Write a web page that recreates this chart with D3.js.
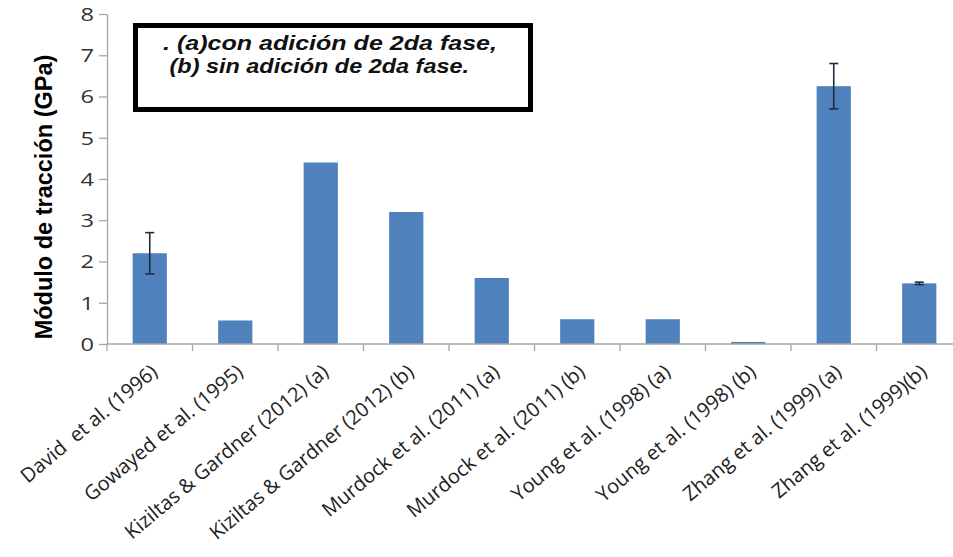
<!DOCTYPE html>
<html>
<head>
<meta charset="utf-8">
<script src="https://cdn.jsdelivr.net/npm/d3@7"></script>
<style>
  html, body { margin: 0; padding: 0; background: #fff; }
  svg { display: block; }
</style>
</head>
<body>
<svg id="chart" width="953" height="557"></svg>
<script>
// Tensile modulus per study (GPa)
const categories = [
  "David  et al. (1996)",
  "Gowayed et al. (1995)",
  "Kiziltas & Gardner (2012) (a)",
  "Kiziltas & Gardner (2012) (b)",
  "Murdock et al. (2011) (a)",
  "Murdock et al. (2011) (b)",
  "Young et al. (1998) (a)",
  "Young et al. (1998) (b)",
  "Zhang et al. (1999) (a)",
  "Zhang et al. (1999)(b)"
];
const values = [2.2, 0.57, 4.4, 3.2, 1.6, 0.6, 0.6, 0.05, 6.25, 1.47];
// error bar half-widths (null = no error bar)
const errors = [0.5, null, null, null, null, null, null, null, 0.55, 0.03];
const yTicks = [0, 1, 2, 3, 4, 5, 6, 7, 8];
const yLabel = "Módulo de tracción (GPa)";
const noteLines = [". (a)con adición de 2da fase,", " (b) sin adición de 2da fase."];

const svg = d3.select("#chart");
const plotLeft = 107, plotRight = 962, plotTop = 14, plotBottom = 344;

const x = d3.scaleBand().domain(categories).range([plotLeft, plotRight]).paddingInner(0.6).paddingOuter(0.3);
const y = d3.scaleLinear().domain([0, 8]).range([plotBottom, plotTop]);

const axisColor = "#a6a6a6";
const tickFont = "'Open Sans', 'DejaVu Sans', sans-serif";

// bars
svg.append("g").selectAll("rect")
  .data(categories)
  .join("rect")
  .attr("x", d => x(d))
  .attr("width", x.bandwidth())
  .attr("y", (d, i) => y(values[i]))
  .attr("height", (d, i) => y(0) - y(values[i]))
  .attr("fill", "#4f81bd");

// error bars
const eb = svg.append("g").attr("stroke", "#1f2d3d").attr("stroke-width", 1.6);
categories.forEach((c, i) => {
  const e = errors[i];
  if (e == null) return;
  const cx = x(c) + x.bandwidth() / 2;
  const y1 = y(values[i] + e), y2 = y(values[i] - e);
  eb.append("line").attr("x1", cx).attr("x2", cx).attr("y1", y1).attr("y2", y2);
  eb.append("line").attr("x1", cx - 4.5).attr("x2", cx + 4.5).attr("y1", y1).attr("y2", y1);
  eb.append("line").attr("x1", cx - 4.5).attr("x2", cx + 4.5).attr("y1", y2).attr("y2", y2);
});

// y axis
const yAxis = svg.append("g")
  .attr("transform", `translate(${plotLeft},0)`)
  .call(d3.axisLeft(y).tickValues(yTicks).tickSize(8).tickSizeOuter(0).tickPadding(5).tickFormat(d3.format("d")));
yAxis.select(".domain").attr("stroke", axisColor).attr("stroke-width", 1.3);
yAxis.selectAll(".tick line").attr("stroke", axisColor).attr("stroke-width", 1.3);
yAxis.selectAll(".tick text")
  .attr("font-family", tickFont).attr("font-size", 18.5).attr("fill", "#333")
  .attr("textLength", 13.5).attr("lengthAdjust", "spacingAndGlyphs")
  .attr("dy", "0.35em");

// x axis: ticks at band boundaries
const step = x.step();
const xStart = x(categories[0]) - x.paddingInner() * step / 2;
const boundaries = d3.range(categories.length + 1).map(i => xStart + i * step);
const xg = svg.append("g");
xg.append("line")
  .attr("x1", plotLeft).attr("x2", plotRight).attr("y1", plotBottom).attr("y2", plotBottom)
  .attr("stroke", axisColor).attr("stroke-width", 1.3);
xg.selectAll("line.tk").data(boundaries).join("line").attr("class", "tk")
  .attr("x1", d => d).attr("x2", d => d).attr("y1", plotBottom).attr("y2", plotBottom + 7)
  .attr("stroke", axisColor).attr("stroke-width", 1.3);

// rotated category labels
xg.selectAll("text").data(categories).join("text")
  .attr("transform", d => `translate(${x(d) + x.bandwidth() / 2 + 9},${plotBottom + 30}) rotate(-40)`)
  .attr("text-anchor", "end")
  .attr("font-family", tickFont).attr("font-size", 20).attr("fill", "#222")
  .attr("xml:space", "preserve")
  .text(d => d);

// y axis title
svg.append("text")
  .attr("transform", `translate(52,197) rotate(-90)`)
  .attr("text-anchor", "middle")
  .attr("font-family", "'Liberation Sans', Arial, sans-serif")
  .attr("font-weight", "bold").attr("font-size", 23.5).attr("fill", "#000")
  .text(yLabel);

// note box
svg.append("rect")
  .attr("x", 135.5).attr("y", 25.5).attr("width", 395).attr("height", 84)
  .attr("fill", "#fff").attr("stroke", "#000").attr("stroke-width", 5);
const noteWidths = [334, 306];
svg.append("g").selectAll("text").data(noteLines).join("text")
  .attr("x", 163)
  .attr("y", (d, i) => 50 + i * 23)
  .attr("xml:space", "preserve")
  .attr("textLength", (d, i) => noteWidths[i])
  .attr("lengthAdjust", "spacingAndGlyphs")
  .attr("font-family", "'Liberation Sans', Arial, sans-serif")
  .attr("font-weight", "bold").attr("font-style", "italic").attr("font-size", 21)
  .attr("fill", "#111")
  .text(d => d);
</script>
</body>
</html>
